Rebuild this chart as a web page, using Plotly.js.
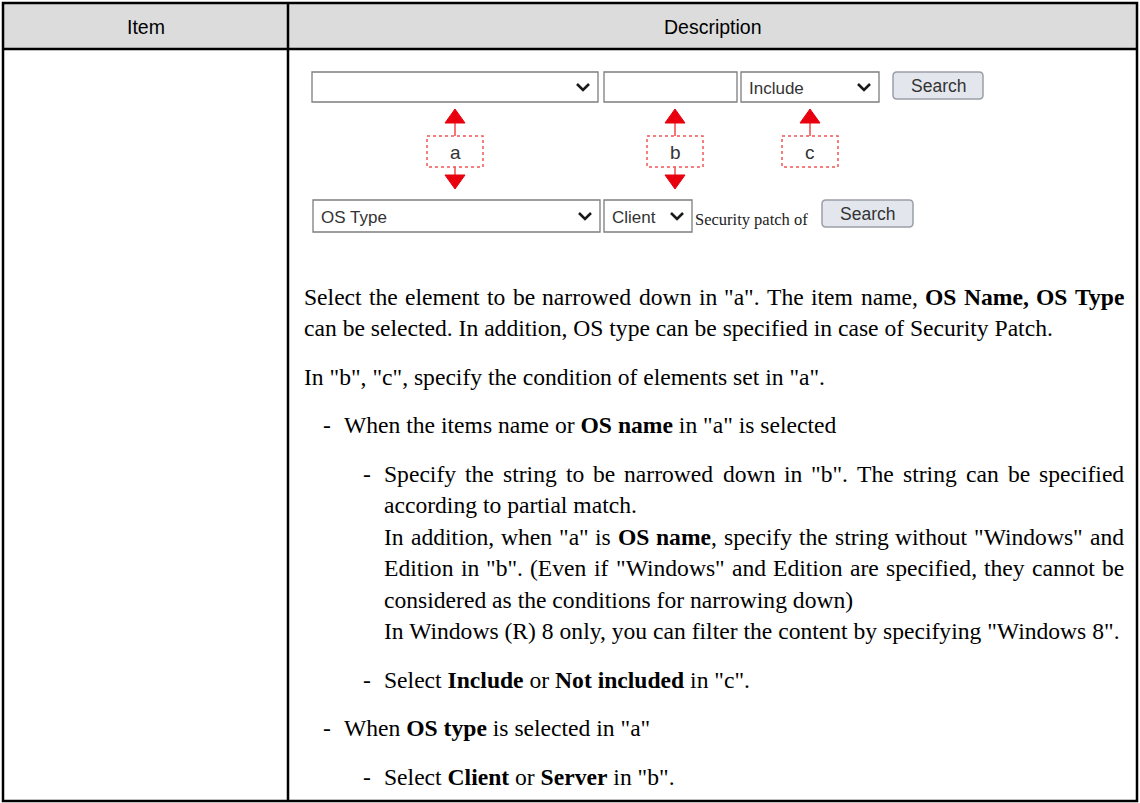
<!DOCTYPE html>
<html>
<head>
<meta charset="utf-8">
<script src="https://cdn.plot.ly/plotly-3.0.1.min.js"></script>
<style>
html,body{margin:0;padding:0;background:#fff;}
#chart{width:1140px;height:803px;}
</style>
</head>
<body>
<div id="chart"></div>
<script>
// ---- content ----
const headerLabels = ["Item", "Description"];
const topRowLabels = ["", "", "Include", "Search"];
const bottomRowLabels = ["OS Type", "Client", "Security patch of", "Search"];
const markerLabels = ["a", "b", "c"];
const descLines = [
  'Select the element to be narrowed down in "a". The item name, <b>OS Name, OS Type</b>',
  'can be selected. In addition, OS type can be specified in case of Security Patch.',
  'In "b", "c", specify the condition of elements set in "a".',
  'When the items name or <b>OS name</b> in "a" is selected',
  'Specify the string to be narrowed down in "b". The string can be specified',
  'according to partial match.',
  'In addition, when "a" is <b>OS name</b>, specify the string without "Windows" and',
  'Edition in "b". (Even if "Windows" and Edition are specified, they cannot be',
  'considered as the conditions for narrowing down)',
  'In Windows (R) 8 only, you can filter the content by specifying "Windows 8".',
  'Select <b>Include</b> or <b>Not included</b> in "c".',
  'When <b>OS type</b> is selected in "a"',
  'Select <b>Client</b> or <b>Server</b> in "b".'
];
const lineLevels  = [0, 0, 0, 1, 2, 2, 2, 2, 2, 2, 2, 1, 2];
const lineBullets = [false, false, false, true, true, false, false, false, false, false, true, true, true];
const lineStartsParagraph = [true, false, true, true, true, false, false, false, false, false, true, true, true];
const lineJustified = [true, false, false, false, true, false, true, true, false, false, false, false, false];

// ---- geometry ----
const W = 1140, H = 803;
const tL = 3, tR = 1137, tT = 3, tB = 801, hdrB = 49, colX = 288;
const shapes = [], ann = [];

const serif = "Liberation Serif, Times New Roman, serif";
const sans = "Liberation Sans, Arial, sans-serif";

// header background
shapes.push({type:'rect', xref:'x', yref:'y', x0:tL, x1:tR, y0:tT, y1:hdrB, fillcolor:'#dcdcdc', line:{width:0}, layer:'below'});
// table lines
const bk = {color:'#000', width:2.5};
shapes.push({type:'rect', xref:'x', yref:'y', x0:tL, x1:tR, y0:tT, y1:tB, line:bk});
shapes.push({type:'line', xref:'x', yref:'y', x0:tL, x1:tR, y0:hdrB, y1:hdrB, line:bk});
shapes.push({type:'line', xref:'x', yref:'y', x0:colX, x1:colX, y0:tT, y1:tB, line:bk});

// header text
const hdrCenters = [(tL + colX) / 2, (colX + tR) / 2];
headerLabels.forEach((t, i) => ann.push({x:hdrCenters[i], y:(tT + hdrB) / 2 + 1, xref:'x', yref:'y', text:t, showarrow:false,
  xanchor:'center', yanchor:'middle', font:{family:sans, size:19.5, color:'#000'}}));

// widget helpers
const gray = {color:'#7d7d7d', width:1.3};
function selectBox(x0, x1, y0, y1, label, chevron) {
  shapes.push({type:'rect', xref:'x', yref:'y', x0, x1, y0, y1, fillcolor:'#fff', line:gray});
  if (chevron) {
    const cx = x1 - 15, cy = (y0 + y1) / 2;
    shapes.push({type:'path', xref:'x', yref:'y', path:`M${cx-6},${cy-3} L${cx},${cy+3} L${cx+6},${cy-3}`, line:{color:'#1a1a1a', width:2.6}});
  }
  if (label) ann.push({x:x0 + 6, y:(y0 + y1) / 2 + 1, xref:'x', yref:'y', text:label, showarrow:false, xanchor:'left', yanchor:'middle',
    font:{family:sans, size:17, color:'#333'}});
}
function button(x0, x1, y0, y1, label) {
  const r = 4;
  const p = `M${x0+r},${y0} L${x1-r},${y0} Q${x1},${y0} ${x1},${y0+r} L${x1},${y1-r} Q${x1},${y1} ${x1-r},${y1} L${x0+r},${y1} Q${x0},${y1} ${x0},${y1-r} L${x0},${y0+r} Q${x0},${y0} ${x0+r},${y0} Z`;
  shapes.push({type:'path', xref:'x', yref:'y', path:p, fillcolor:'#e3e7ed', line:{color:'#9a9ea6', width:1.5}});
  ann.push({x:(x0 + x1) / 2, y:(y0 + y1) / 2, xref:'x', yref:'y', text:label, showarrow:false, xanchor:'center', yanchor:'middle',
    font:{family:sans, size:17.5, color:'#333'}});
}
const red = '#e8000e';
function marker(cx, label, down) {
  const bx0 = cx - 28, bx1 = cx + 28, by0 = 136, by1 = 167;
  shapes.push({type:'line', xref:'x', yref:'y', x0:cx, x1:cx, y0:121, y1:by0, line:{color:'#f04a4a', width:1.5}});
  shapes.push({type:'path', xref:'x', yref:'y', path:`M${cx},109 L${cx+10},123 L${cx-10},123 Z`, fillcolor:red, line:{color:red, width:1}});
  if (down) {
    shapes.push({type:'line', xref:'x', yref:'y', x0:cx, x1:cx, y0:by1, y1:177, line:{color:'#f04a4a', width:1.5}});
    shapes.push({type:'path', xref:'x', yref:'y', path:`M${cx-10},175 L${cx+10},175 L${cx},189 Z`, fillcolor:red, line:{color:red, width:1}});
  }
  shapes.push({type:'rect', xref:'x', yref:'y', x0:bx0, x1:bx1, y0:by0, y1:by1, fillcolor:'#fff', line:{color:'#f25555', width:1.5, dash:'dot'}});
  ann.push({x:cx, y:(by0 + by1) / 2 + 1, xref:'x', yref:'y', text:label, showarrow:false, xanchor:'center', yanchor:'middle',
    font:{family:sans, size:19, color:'#333'}});
}

// top widget row
selectBox(312, 598, 72, 102, topRowLabels[0], true);
selectBox(604, 737, 72, 102, topRowLabels[1], false);
selectBox(741, 879, 72, 102, topRowLabels[2], true);
button(893, 983, 72, 99, topRowLabels[3]);
// markers
marker(455, markerLabels[0], true);
marker(675, markerLabels[1], true);
marker(810, markerLabels[2], false);
// bottom widget row
selectBox(313, 600, 200, 232, bottomRowLabels[0], true);
selectBox(604, 692, 200, 232, bottomRowLabels[1], true);
ann.push({x:693, y:219, xref:'x', yref:'y', text:bottomRowLabels[2], showarrow:false, xanchor:'left', yanchor:'middle',
  font:{family:serif, size:16.5, color:'#222'}});
button(822, 913, 200, 227, bottomRowLabels[3]);

// description text
const fs = 23.6;
const textX = [303, 343, 383], dashX = [0, 322, 362];
const rightEdge = 1123;
const lineGap = 31.5, paraGap = 48.5;

const cv = document.createElement('canvas').getContext('2d');
function measure(t, bold) {
  cv.font = (bold ? 'bold ' : '') + fs + 'px "Liberation Serif"';
  return cv.measureText(t).width;
}
function splitWords(html) {
  const out = []; let cur = []; let bold = false;
  const re = /<b>|<\/b>|[^<]+/g; let m;
  while ((m = re.exec(html)) !== null) {
    const tok = m[0];
    if (tok === '<b>') { bold = true; continue; }
    if (tok === '</b>') { bold = false; continue; }
    const parts = tok.split(' ');
    parts.forEach((p, j) => {
      if (j > 0) { if (cur.length) out.push(cur); cur = []; }
      if (p) cur.push({t:p, b:bold});
    });
  }
  if (cur.length) out.push(cur);
  return out.map(segs => ({
    html: segs.map(s => s.b ? '<b>' + s.t + '</b>' : s.t).join(''),
    w: segs.reduce((a, s) => a + measure(s.t, s.b), 0)
  }));
}

let base = 304.5;
descLines.forEach((t, i) => {
  if (i > 0) base += lineStartsParagraph[i] ? paraGap : lineGap;
  const lv = lineLevels[i];
  const yc = base - 0.3375 * fs;
  const f = {family:serif, size:fs, color:'#000'};
  if (lineBullets[i]) ann.push({x:dashX[lv], y:yc, xref:'x', yref:'y', text:'-', showarrow:false, xanchor:'left', yanchor:'middle', font:f, borderpad:0});
  if (lineJustified[i]) {
    const ws = splitWords(t);
    const total = ws.reduce((a, w) => a + w.w, 0);
    const gap = (rightEdge - textX[lv] - total) / (ws.length - 1);
    let x = textX[lv];
    ws.forEach(w => {
      ann.push({x:x, y:yc, xref:'x', yref:'y', text:w.html, showarrow:false, xanchor:'left', yanchor:'middle', font:f, borderpad:0});
      x += w.w + gap;
    });
  } else {
    ann.push({x:textX[lv], y:yc, xref:'x', yref:'y', text:t, showarrow:false, xanchor:'left', yanchor:'middle', font:f, borderpad:0});
  }
});

const data = [{x:[0, W], y:[0, H], type:'scatter', mode:'markers', marker:{opacity:0}, hoverinfo:'skip', showlegend:false}];
const layout = {
  width:W, height:H, margin:{l:0, r:0, t:0, b:0, pad:0},
  paper_bgcolor:'#fff', plot_bgcolor:'#fff', showlegend:false,
  xaxis:{range:[0, W], visible:false, fixedrange:true},
  yaxis:{range:[H, 0], visible:false, fixedrange:true},
  shapes:shapes, annotations:ann
};
Plotly.newPlot('chart', data, layout, {staticPlot:true, displayModeBar:false});
</script>
</body>
</html>
